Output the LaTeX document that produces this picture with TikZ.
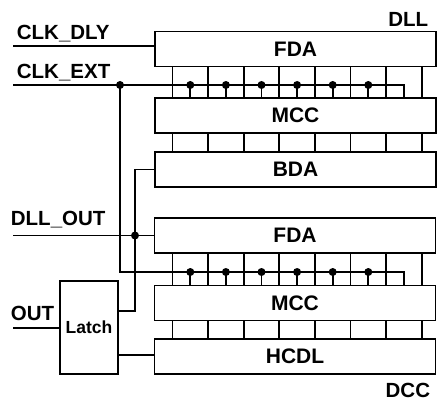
\documentclass[tikz,border=0pt]{standalone}
\usepackage{fontspec}
\setmainfont{Liberation Sans}
\begin{document}
\begin{tikzpicture}[x=1pt,y=-1pt, line width=1.8pt,
 blk/.style={draw, rectangle, inner sep=0pt, minimum width=281pt, minimum height=35pt, font=\fontsize{21}{24}\selectfont\bfseries},
 lbl/.style={inner sep=0pt, font=\fontsize{20.5}{24}\selectfont\bfseries},
 jdot/.style={circle, fill, inner sep=0pt, minimum size=8pt}]
\useasboundingbox (0,0) rectangle (438,401);
% blocks
\node[blk] (fda1) at (295.5,49) {FDA};
\node[blk] (mcc1) at (295.5,115.5) {MCC};
\node[blk] (bda)  at (295.5,169.5) {BDA};
\node[blk] (fda2) at (295,235.5) {FDA};
\node[blk] (mcc2) at (295,303) {MCC};
\node[blk] (hcdl) at (295,356.5) {HCDL};
\node[draw, rectangle, inner sep=0pt, minimum width=58pt, minimum height=93pt,
      font=\fontsize{17.5}{20}\selectfont\bfseries] (latch) at (89,327.5) {Latch};
% labels
\node[lbl, anchor=base east] (tdll) at (429,27) {DLL};
\node[lbl, anchor=base east] (tdcc) at (431,397) {DCC};
\node[lbl, anchor=base west] (tdly) at (16,40) {CLK\_DLY};
\node[lbl, anchor=base west] (text) at (16,78) {CLK\_EXT};
\node[lbl, anchor=base west] (tdo)  at (10,225) {DLL\_OUT};
\node[lbl, anchor=base west] (tout) at (10,320) {OUT};
% vertical bus connectors
\foreach \k in {0,...,7} {
  \pgfmathsetmacro\xx{172.5+35.6*\k}
  \coordinate (v\k) at (\xx,0);
  \draw (fda1.south -| v\k) -- (mcc1.north -| v\k);
  \draw (mcc1.south -| v\k) -- (bda.north -| v\k);
  \draw (fda2.south -| v\k) -- (mcc2.north -| v\k);
  \draw (mcc2.south -| v\k) -- (hcdl.north -| v\k);
}
% inputs
\coordinate (cdly) at (13,46);
\draw (cdly) -- (cdly -| fda1.west);
\coordinate (cext) at (13,85);
\coordinate (cend) at (403.9,85);
\draw (cext) -- (cend) -- (cend |- mcc1.north);
\node[jdot] (j1) at (120,85) {};
\coordinate (jl) at (120,272);
\coordinate (lend) at (403.9,272);
\draw (j1.center) -- (jl) -- (lend) -- (lend |- mcc2.north);
\foreach \k in {0,...,5} {
  \pgfmathsetmacro\xx{190.3+35.6*\k}
  \node[jdot] (ta\k) at (\xx,85) {};
  \draw (ta\k.center) -- (ta\k.center |- mcc1.north);
  \node[jdot] (tb\k) at (\xx,272) {};
  \draw (tb\k.center) -- (tb\k.center |- mcc2.north);
}
% BDA output / DLL_OUT
\coordinate (dllo) at (13,235.5);
\draw (dllo) -- (dllo -| fda2.west);
\coordinate (bv) at (135,0);
\coordinate (ly) at (0,311);
\draw (bda.west) -- (bda.west -| bv) -- (bv |- ly) -- (latch.east |- ly);
\node[jdot] (j2) at (bv |- dllo) {};
% OUT and latch to HCDL
\coordinate (outc) at (13,328);
\draw (outc) -- (outc -| latch.west);
\coordinate (lh) at (0,355);
\draw (latch.east |- lh) -- (hcdl.west |- lh);
\end{tikzpicture}
\end{document}
